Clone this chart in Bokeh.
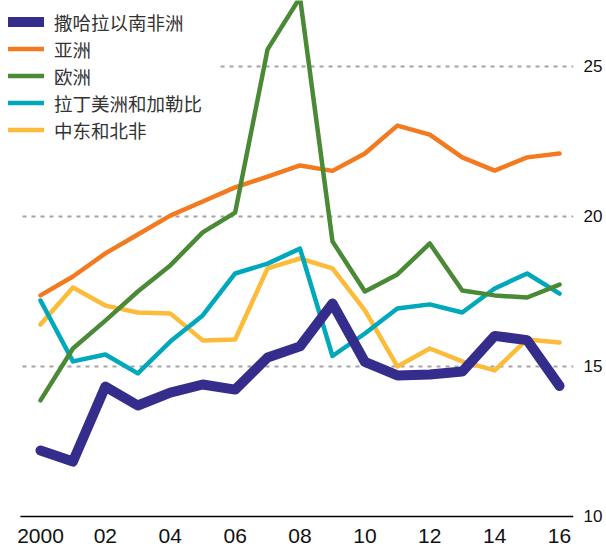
from bokeh.plotting import figure
from bokeh.models import Range1d, FixedTicker, Legend, LegendItem
from bokeh.embed import file_html
from bokeh.resources import INLINE

years = list(range(2000, 2017))
ssa = [12.2, 11.83, 14.33, 13.7, 14.13, 14.4, 14.23, 15.3, 15.67, 17.1, 15.15, 14.7, 14.73, 14.83, 16.02, 15.88, 14.35]
asia = [17.37, 18.0, 18.77, 19.4, 20.03, 20.5, 20.97, 21.33, 21.7, 21.52, 22.1, 23.03, 22.73, 21.97, 21.53, 21.97, 22.1]
europe = [13.87, 15.6, 16.53, 17.5, 18.37, 19.47, 20.13, 25.57, 27.3, 19.17, 17.5, 18.07, 19.1, 17.53, 17.37, 17.3, 17.73]
latam = [17.2, 15.17, 15.4, 14.77, 15.83, 16.7, 18.1, 18.43, 18.93, 15.35, 16.1, 16.93, 17.07, 16.8, 17.6, 18.1, 17.43]
mena = [16.4, 17.63, 17.03, 16.8, 16.77, 15.87, 15.9, 18.27, 18.6, 18.27, 16.87, 15.0, 15.6, 15.17, 14.87, 15.9, 15.8]

names = ["撒哈拉以南非洲", "亚洲", "欧洲", "拉丁美洲和加勒比", "中东和北非"]
y_ticks = [10, 15, 20, 25]
x_ticks = [2000, 2002, 2004, 2006, 2008, 2010, 2012, 2014, 2016]
x_labels = ["2000", "02", "04", "06", "08", "10", "12", "14", "16"]

colors = {"ssa": "#352D8C", "asia": "#F47A20", "europe": "#4A8A36", "latam": "#00A8BB", "mena": "#FDBB3A"}

FW, FH = 573, 518
X0, X1 = 1998.767, 2016.43
Y0 = 9.933
Y1 = Y0 + FH / 30.0
p = figure(frame_width=FW, frame_height=FH, output_backend="svg", toolbar_location=None,
           x_range=Range1d(X0, X1), y_range=Range1d(Y0, Y1),
           y_axis_location="right", min_border_left=0, min_border_top=0,
           min_border_right=0, min_border_bottom=0)
p.outline_line_color = None
p.background_fill_color = "white"
p.xgrid.visible = False
p.ygrid.visible = False

# gridlines
gl_y = [15, 20, 25]
gl_x0 = [1999.445, 1999.445, 2005.55]
gl_x1 = [X1, X1, X1]
p.segment(x0=gl_x0, x1=gl_x1, y0=gl_y, y1=gl_y, line_color="#A3A3A8", line_width=2, line_dash="4 5")
# baseline
p.segment(x0=[1999.38], x1=[X1], y0=[10], y1=[10], line_color="black", line_width=1.5)

r_mena = p.line(years, mena, line_color=colors["mena"], line_width=4.5, line_cap="round", line_join="round")
r_latam = p.line(years, latam, line_color=colors["latam"], line_width=4.5, line_cap="round", line_join="round")
r_asia = p.line(years, asia, line_color=colors["asia"], line_width=4.5, line_cap="round", line_join="round")
r_eur = p.line(years, europe, line_color=colors["europe"], line_width=4.5, line_cap="round", line_join="round")
r_ssa = p.line(years, ssa, line_color=colors["ssa"], line_width=10, line_cap="round", line_join="round")

legend = Legend(items=[LegendItem(label=names[0], renderers=[r_ssa]),
                       LegendItem(label=names[1], renderers=[r_asia]),
                       LegendItem(label=names[2], renderers=[r_eur]),
                       LegendItem(label=names[3], renderers=[r_latam]),
                       LegendItem(label=names[4], renderers=[r_mena])],
                location=(8, FH - 135 - 8), padding=0, margin=0, spacing=0,
                glyph_width=36, glyph_height=27, label_height=27, label_standoff=10,
                label_text_font="Noto Sans CJK SC", label_text_font_size="18.5px",
                label_text_color="#333333", background_fill_alpha=0, border_line_color=None)
p.add_layout(legend, "center")

xa = p.xaxis[0]
xa.ticker = FixedTicker(ticks=x_ticks)
xa.major_label_overrides = {t: l for t, l in zip(x_ticks, x_labels)}
xa.axis_line_color = None
xa.major_tick_line_color = None
xa.minor_tick_line_color = None
xa.major_tick_out = 0
xa.major_tick_in = 0
xa.minor_tick_out = 0
xa.major_label_standoff = 10
xa.major_label_text_font = "Liberation Sans"
xa.major_label_text_font_size = "21px"
xa.major_label_text_color = "#111111"

ya = p.yaxis[0]
ya.ticker = FixedTicker(ticks=y_ticks)
ya.axis_line_color = None
ya.major_tick_line_color = None
ya.minor_tick_line_color = None
ya.major_tick_out = 0
ya.major_tick_in = 0
ya.minor_tick_out = 0
ya.major_label_standoff = 10
ya.major_label_text_font = "Liberation Sans"
ya.major_label_text_font_size = "17px"
ya.major_label_text_color = "#111111"

open("out.html", "w").write(file_html(p, INLINE))
